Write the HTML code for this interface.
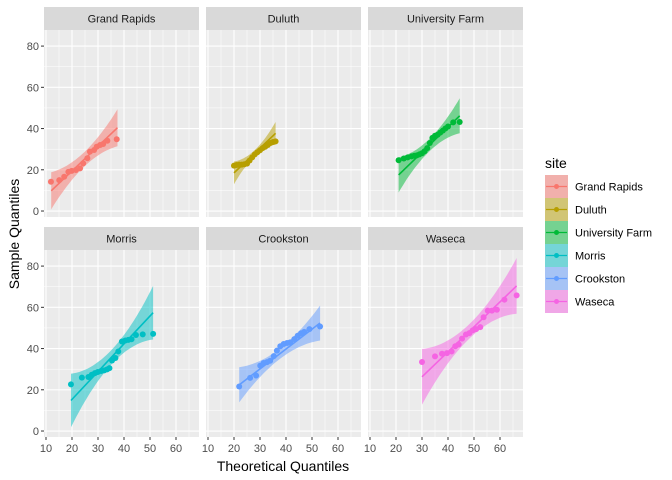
<!DOCTYPE html>
<html><head><meta charset="utf-8"><style>
body{margin:0;background:#fff;}
svg{display:block;font-family:"Liberation Sans",sans-serif;}
</style></head><body>
<svg id="chart" width="672" height="480"></svg>
<script>
const sites=["Grand Rapids","Duluth","University Farm","Morris","Crookston","Waseca"];
const colors=["#F8766D","#B79F00","#00BA38","#00BFC4","#619CFF","#F564E3"];
const qxGR=[11.9,15.1,17.0,18.6,19.9,21.5,23.1,24.3,25.9,26.9,28.5,29.5,30.8,32.0,33.6,37.2];
const qyGR=[14.2,15.0,16.6,19.0,19.5,19.9,20.7,23.1,25.6,28.8,29.6,31.2,32.0,32.5,34.1,34.8];
const qxDU=[20,21,22,23,24,25,26,27,28,29,30,31,32,33,34,35,36];
const qyDU=[22,22.3,22.5,22.5,22.7,23,24.5,26,27.5,28.5,29.5,30.5,31.2,32,33,33.5,33.8];
const qxUF=[21,23,24.5,26,27,28,29,30,31,32,33,34,35,36,37,38,39,40,42,44.5];
const qyUF=[24.6,25.5,26,26.5,26.8,27,27.5,28,29,30.5,33,35.5,36.5,37,38,39,40,41,43,43.2];
const qxMO=[19.6,23.8,26.3,27.6,28.8,29.9,31.2,32.4,33.5,34.4,35.4,36.7,37.8,39.2,40.5,41.7,42.9,44.6,47.2,51.2];
const qyMO=[22.6,25.9,26.2,27.3,28.1,28.6,29.1,29.4,29.9,30.5,34.2,35.4,38.6,43.4,43.9,44.2,44.5,46.6,46.9,47.1];
const qxCR=[22.0,26.2,28.5,30.1,31.4,32.7,33.9,35.3,36.5,37.8,39.1,40.4,41.6,43.2,44.5,45.8,47.0,49.0,53.1];
const qyCR=[21.6,25.8,26.9,31.7,33.0,33.4,34.1,36.3,39.0,41.1,42.2,42.7,43.0,44.6,46.2,47.4,48.1,49.4,50.7];
const qxWA=[30.0,35.0,37.7,39.6,41.4,42.8,44.1,45.4,46.9,48.2,49.5,50.8,52.4,53.7,55.3,56.9,58.8,61.7,66.4];
const qyWA=[33.5,36.2,37.5,37.8,38.6,41.1,42.0,44.8,46.8,47.5,48.8,49.4,50.4,55.2,58.4,58.4,58.8,63.7,65.8];
const qx=[qxGR,qxDU,qxUF,qxMO,qxCR,qxWA];
const qy=[qyGR,qyDU,qyUF,qyMO,qyCR,qyWA];
const lineX0=[12,20,21,19.6,22,30];
const lineY0=[9.8,18.5,17.5,14.8,22.4,26.3];
const lineX1=[37.5,36,44.5,51.2,53.1,66.4];
const lineY1=[40.4,37.7,46.2,57.4,52.4,70.4];
const bandMid=[3.5,1.5,3,3.5,2.5,3.5];
const bandEnd=[9,5.5,8.5,13,8.5,13.5];
const xTicks=[10,20,30,40,50,60];
const yTicks=[0,20,40,60,80];

const svg=document.getElementById('chart');
const NS="http://www.w3.org/2000/svg";
function mk(tag,attrs,parent){const e=document.createElementNS(NS,tag);for(const k in attrs)e.setAttribute(k,attrs[k]);(parent||svg).appendChild(e);return e;}
const colX=[44,206,368], rowY=[30,250], PW=155, PH=187;
const xMin=9.23, yMin=-2.9, yMax=87.8;
function sx(c,v){return colX[c]+(v-xMin)*2.6;}
function sy(r,v){return rowY[r]+PH-(v-yMin)/(yMax-yMin)*PH;}

for(let i=0;i<6;i++){
  const c=i%3,r=Math.floor(i/3);
  const g=mk('g',{});
  
  
  mk('rect',{x:colX[c],y:rowY[r],width:PW,height:PH,fill:'#EBEBEB'},g);
  for(let v=15;v<=65;v+=10) mk('line',{x1:sx(c,v),x2:sx(c,v),y1:rowY[r],y2:rowY[r]+PH,stroke:'#fff','stroke-width':0.5},g);
  for(let v=10;v<=70;v+=20) mk('line',{x1:colX[c],x2:colX[c]+PW,y1:sy(r,v),y2:sy(r,v),stroke:'#fff','stroke-width':0.5},g);
  xTicks.forEach(v=>mk('line',{x1:sx(c,v),x2:sx(c,v),y1:rowY[r],y2:rowY[r]+PH,stroke:'#fff','stroke-width':1.1},g));
  yTicks.forEach(v=>mk('line',{x1:colX[c],x2:colX[c]+PW,y1:sy(r,v),y2:sy(r,v),stroke:'#fff','stroke-width':1.1},g));
  // strip
  const st=mk('rect',{x:colX[c],y:rowY[r]-23,width:PW,height:23,fill:'#D9D9D9'},g);
  
  
  const tt=mk('text',{x:colX[c]+PW/2,y:rowY[r]-7.5,'text-anchor':'middle','font-size':'11',fill:'#1A1A1A'},g);
  tt.textContent=sites[i];
  // band
  const xa=lineX0[i],xb=lineX1[i],xm=(xa+xb)/2,h=(xb-xa)/2;
  const slope=(lineY1[i]-lineY0[i])/(xb-xa);
  const up=[],lo=[];
  for(let k=0;k<=30;k++){
    const x=xa+(xb-xa)*k/30;const t=(x-xm)/h;
    const w=bandMid[i]+(bandEnd[i]-bandMid[i])*t*t;
    const yl=lineY0[i]+slope*(x-xa);
    up.push(sx(c,x).toFixed(1)+','+sy(r,yl+w).toFixed(1));
    lo.unshift(sx(c,x).toFixed(1)+','+sy(r,yl-w).toFixed(1));
  }
  const band=mk('polygon',{points:up.concat(lo).join(' '),fill:colors[i],'fill-opacity':0.5},g);
  
  
  const ln=mk('line',{x1:sx(c,xa),y1:sy(r,lineY0[i]),x2:sx(c,xb),y2:sy(r,lineY1[i]),stroke:colors[i],'stroke-width':1.6},g);
  
  
  qx[i].forEach((x,j)=>{
    const p=mk('circle',{cx:sx(c,x),cy:sy(r,qy[i][j]),r:3,fill:colors[i]},g);
    
    
  });
  if(c===0){
    yTicks.forEach(v=>{
      mk('line',{x1:colX[c]-3,x2:colX[c],y1:sy(r,v),y2:sy(r,v),stroke:'#333','stroke-width':1},g);
      const t=mk('text',{x:colX[c]-5,y:sy(r,v)+4,'text-anchor':'end','font-size':'11',fill:'#4D4D4D'},g);
      
      
      t.textContent=v;
    });
  }
  if(r===1){
    xTicks.forEach(v=>{
      mk('line',{x1:sx(c,v),x2:sx(c,v),y1:rowY[r]+PH,y2:rowY[r]+PH+3,stroke:'#333','stroke-width':1},g);
      const t=mk('text',{x:sx(c,v),y:rowY[r]+PH+15,'text-anchor':'middle','font-size':'11',fill:'#4D4D4D'},g);
      
      
      t.textContent=v;
    });
  }
}
const xt=mk('text',{x:283,y:471,'text-anchor':'middle','font-size':'14',fill:'#000'});


xt.textContent='Theoretical Quantiles';
const yt=mk('text',{x:0,y:0,'text-anchor':'middle','font-size':'14',fill:'#000',transform:'translate(19,234) rotate(-90)'});


yt.textContent='Sample Quantiles';
const lg=mk('g',{});


const lt=mk('text',{x:545,y:168,'font-size':'14',fill:'#000'},lg);
lt.textContent='site';
sites.forEach((s,i)=>{
  const y=175+i*23;
  const e=mk('g',{},lg);
  
  
  mk('rect',{x:545,y:y,width:23,height:23,fill:'#EBEBEB'},e);
  mk('rect',{x:545,y:y,width:23,height:23,fill:colors[i],'fill-opacity':0.5},e);
  mk('line',{x1:546,x2:567,y1:y+11.5,y2:y+11.5,stroke:colors[i],'stroke-width':1.2},e);
  mk('circle',{cx:556.5,cy:y+11.5,r:2.5,fill:colors[i]},e);
  const t=mk('text',{x:575,y:y+15.5,'font-size':'11',fill:'#000'},e);
  t.textContent=s;
});
</script>
</body></html>
